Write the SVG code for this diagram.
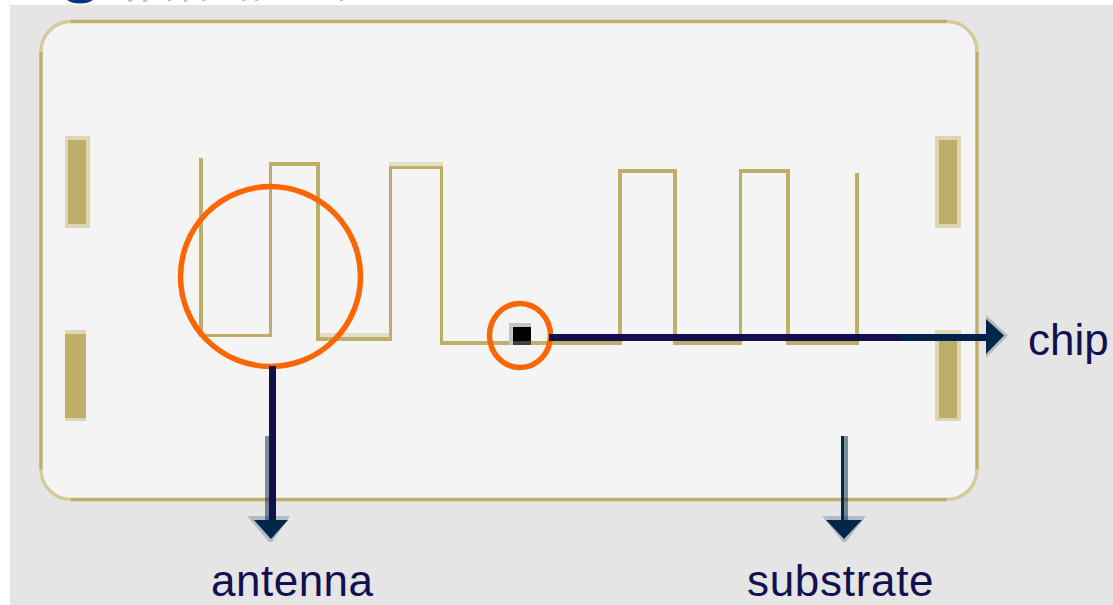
<svg xmlns="http://www.w3.org/2000/svg" width="1113" height="605" viewBox="0 0 1113 605">
<style>
.gold{fill:#bdae69}
.halo{fill:#dcd6b4}
.faint{fill:#e3dfc5}
.navy{fill:#12104f}
.deep{fill:#00264a}
.soft{fill:#00264a;fill-opacity:.5}
.pale{fill:#00264a;fill-opacity:.22}
.ring{fill:none;stroke:#ff6600}
.lbl{font-family:"Liberation Sans",Arial,sans-serif;font-size:44px;fill:#12104f}
</style>
<rect width="1113" height="605" fill="#ffffff"/>
<rect x="10" y="5" width="1103" height="600" fill="#e5e5e5"/>
<g id="clipped-title-remnant">
<path d="M67 0H93Q88 3.500 80 3.500Q72 3.500 67 0Z" fill="#003380"/>
<path d="M128 0h4v1.500h-4zM143 0h4v1.500h-4zM168 0h3v1h-3zM184 0h3v1.500h-3zM202 0h3v1h-3zM242 0h3v1h-3zM255 0h3v1h-3zM340 0h3v1h-3z" fill="#a9bcd9"/>
</g>
<g id="substrate-card">
<rect x="41" y="21.500" width="936" height="478" rx="30" ry="30" fill="#f4f4f4"/>
<path d="M71 21.500H947M71 499.500H947M41 51.500V469.500M977 51.500V469.500" fill="none" stroke="#bdae69" stroke-width="3.500"/>
<path d="M41 51.500A30 30 0 0 1 71 21.500M947 21.500A30 30 0 0 1 977 51.500M977 469.500A30 30 0 0 1 947 499.500M71 499.500A30 30 0 0 1 41 469.500" fill="none" stroke="#d3cb9c" stroke-width="3.500"/>
</g>
<g id="pads">
<rect class="halo" x="65" y="136" width="25" height="92"/><rect class="gold" x="68" y="140" width="18" height="84"/>
<rect class="halo" x="65" y="330" width="21" height="91"/><rect class="gold" x="65" y="334" width="21" height="84"/>
<rect class="halo" x="935" y="136" width="26" height="92"/><rect class="gold" x="939" y="140" width="18" height="84"/>
<rect class="halo" x="935" y="330" width="26" height="91"/><rect class="gold" x="939" y="334" width="18" height="84"/>
</g>
<g id="antenna-trace">
<rect class="faint" x="320" y="333" width="69" height="4"/>
<rect class="faint" x="389" y="162" width="54" height="4"/>
<path class="gold" d="M199 158h4v179h-4zM199 334h73v3h-73zM269 162h3v175h-3zM269 162h51v4h-51zM316 162h4v179h-4zM316 337h76v4h-76zM389 166h3v175h-3zM389 166h54v3h-54zM440 166h3v179h-3zM440 341h182v4h-182zM618 169h4v176h-4zM618 169h59v4h-59zM673 169h4v176h-4zM673 341h69v4h-69zM739 169h3v176h-3zM739 169h51v4h-51zM786 169h4v176h-4zM786 341h73v4h-73zM855 173h4v172h-4z"/>
</g>
<g id="chip">
<path d="M509 323h22v4h-18v18h-4z" fill="#c4c4c4"/>
<rect x="513" y="327" width="18" height="14" fill="#000000"/>
<rect x="513" y="341" width="18" height="4" fill="#404040"/>
</g>
<g id="highlight-rings">
<circle class="ring" cx="270.500" cy="276.500" r="90" stroke-width="5.500"/>
<ellipse class="ring" cx="520" cy="335.500" rx="30.500" ry="32" stroke-width="5.500"/>
</g>
<g id="connectors">
<rect class="navy" x="269" y="366" width="7" height="154"/>
<rect class="soft" x="265" y="436" width="4" height="84"/>
<polygon class="pale" points="247,516 290,516 272,542 269,542"/>
<polygon class="deep" points="254,520 288,520 271,539"/>
<rect class="deep" x="841" y="436" width="3" height="84"/>
<rect class="soft" x="844" y="436" width="4" height="84"/>
<polygon class="pale" points="822,516 866,516 846,542 843,542"/>
<polygon class="deep" points="826,520 862,520 844,539"/>
<rect class="navy" x="549" y="334" width="352" height="7"/>
<rect x="901" y="334" width="85" height="7" fill="#05204c"/>
<polygon class="pale" points="986,315 1008,335.500 986,358"/>
<polygon class="deep" points="986,319 1004,335.500 986,354"/>
</g>
<g id="labels">
<text class="lbl" x="211" y="596" letter-spacing="0.500">antenna</text>
<text class="lbl" x="747" y="596" letter-spacing="0.700">substrate</text>
<text class="lbl" x="1028" y="355">chip</text>
</g>
</svg>
